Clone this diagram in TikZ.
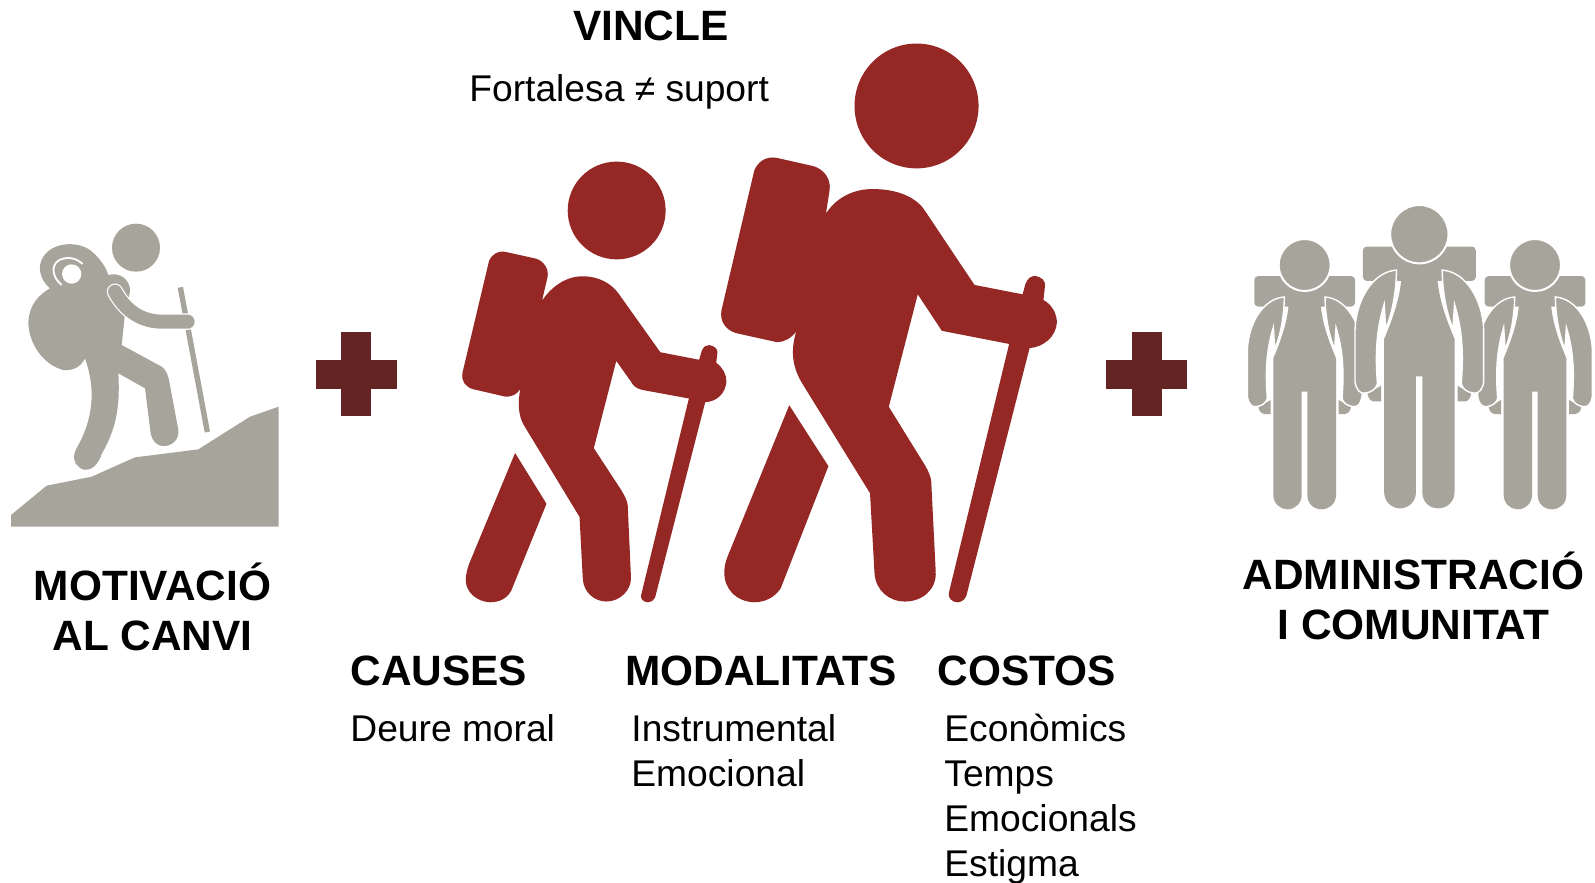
\documentclass[tikz,border=0pt]{standalone}
\usepackage{fontspec}
\setmainfont{Liberation Sans}
\definecolor{hikered}{HTML}{952725}
\definecolor{plusred}{HTML}{632423}
\definecolor{stonegrey}{HTML}{A7A59B}
\tikzset{
  bigtext/.style={inner sep=0pt,font=\fontsize{21.2}{25.4}\selectfont\bfseries,align=center},
  smalltext/.style={inner sep=0pt,font=\fontsize{18.6}{22.5}\selectfont,align=left},
  zoomA/.style={shift={(0,200)},x=0.16667pt,y=-0.16667pt},
  zoomB/.style={shift={(440,30)},x=0.204pt,y=-0.188pt},
  zoomC/.style={shift={(1230,190)},x=0.16667pt,y=-0.16667pt}
}
\newcommand{\plussign}[1]{%
  \begin{scope}[shift={(#1,0)}]
    \fill[plusred] (0,359.5) rectangle (81,388.5);
    \fill[plusred] (25.5,332) rectangle (55.5,416);
  \end{scope}}
\newcommand{\packer}[3]{%
  \begin{scope}[shift={(#1,#2)},scale=#3,shift={(-224,-958)}]
    \fill[stonegrey,rounded corners=2pt] (73,258) rectangle (375,350);
    \fill[stonegrey] (85,652) -- (122,630) -- (122,672) -- (102,672) .. controls (95,672) and (88,665) .. (85,652) -- cycle;
    \fill[stonegrey] (363,652) -- (326,630) -- (326,672) -- (346,672) .. controls (353,672) and (360,665) .. (363,652) -- cycle;
    \filldraw[stonegrey,draw=white,line width=0.7pt] (163,321) .. controls (100,325) and (55,400) .. (52,480) -- (52,620) .. controls (55,640) and (65,652) .. (78,650) .. controls (95,648) and (108,640) .. (112,625) .. controls (107,560) and (106,490) .. (130,412) -- (134,478) .. controls (150,440) and (162,385) .. (163,321) -- cycle;
    \filldraw[stonegrey,draw=white,line width=0.7pt] (285,321) .. controls (348,325) and (393,400) .. (396,480) -- (396,620) .. controls (393,640) and (383,652) .. (370,650) .. controls (353,648) and (340,640) .. (336,625) .. controls (341,560) and (342,490) .. (318,412) -- (314,478) .. controls (298,440) and (286,385) .. (285,321) -- cycle;
    \fill[stonegrey] (177,322) -- (271,322) .. controls (272,390) and (295,450) .. (318,505) -- (318,915) .. controls (318,940) and (298,958) .. (275,958) .. controls (250,958) and (232,940) .. (232,915) -- (232,605) -- (215,605) -- (215,915) .. controls (215,940) and (195,958) .. (172,958) .. controls (150,958) and (130,940) .. (130,915) -- (130,505) .. controls (153,450) and (176,390) .. (177,322) -- cycle;
    \filldraw[stonegrey,draw=white,line width=1pt] (224,225) circle (78);
  \end{scope}}
\begin{document}
\begin{tikzpicture}[x=0.5pt,y=-0.5pt]
\useasboundingbox (0,0) rectangle (1595,883);
\fill[white] (0,0) rectangle (1595,883);

% left hiker
\begin{scope}[zoomA]
  \fill[stonegrey] (33,945) -- (140,857) -- (275,830) -- (405,772) -- (595,748) -- (750,650) -- (836,620) -- (836,980) -- (33,980) -- cycle;
  \fill[stonegrey] (408,143) circle (72);
  \draw[stonegrey,line width=2.7pt] (541,262) -- (622,696);
  \fill[stonegrey] (150,265) .. controls (120,240) and (110,200) .. (130,170) .. controls (155,130) and (225,120) .. (270,150) .. controls (295,170) and (315,195) .. (325,225) .. controls (360,215) and (392,240) .. (390,275) -- (375,340) -- (365,435) -- (485,500) .. controls (500,510) and (505,530) .. (508,545) -- (535,690) .. controls (538,720) and (515,738) .. (492,738) .. controls (470,738) and (458,725) .. (452,700) -- (435,565) -- (355,520) .. controls (362,640) and (340,700) .. (305,762) .. controls (290,810) and (255,818) .. (238,802) .. controls (220,790) and (218,765) .. (228,748) .. controls (285,650) and (285,560) .. (255,475) .. controls (240,505) and (215,512) .. (190,510) .. controls (130,495) and (85,430) .. (85,365) .. controls (88,315) and (115,285) .. (150,265) -- cycle;
  \fill[white] (215,222) circle (29);
  \draw[white,line width=0.9pt] (185,255) .. controls (160,235) and (150,200) .. (175,182) .. controls (195,170) and (225,170) .. (248,192);
  \draw[white,line width=8.2pt,line cap=round] (345,275) .. controls (375,330) and (420,362) .. (480,365) -- (563,365);
  \draw[stonegrey,line width=7pt,line cap=round] (345,275) .. controls (375,330) and (420,362) .. (480,365) -- (563,365);
\end{scope}

\plussign{315.5}
\plussign{1106}

% centre hikers
\begin{scope}[zoomB]
  \fill[hikered] (1168,202) ellipse [x radius=152,y radius=166];
  \fill[hikered] (946,488) .. controls (975,440) and (1020,423) .. (1060,423) .. controls (1115,423) and (1160,440) .. (1185,475) -- (1310,678) -- (1428,703) -- (1435,675) .. controls (1440,660) and (1450,654) .. (1458,654) .. controls (1475,656) and (1484,668) .. (1483,680) -- (1479,718) .. controls (1500,730) and (1512,755) .. (1512,778) .. controls (1510,815) and (1480,843) .. (1445,846) -- (1290,1505) .. controls (1285,1518) and (1275,1522) .. (1268,1522) .. controls (1255,1522) and (1245,1510) .. (1247,1498) -- (1395,835) -- (1230,800) -- (1171,703) -- (1100,1002) -- (1190,1160) .. controls (1198,1175) and (1203,1190) .. (1204,1200) -- (1215,1440) .. controls (1218,1490) and (1180,1520) .. (1140,1520) .. controls (1100,1520) and (1068,1490) .. (1065,1445) -- (1054,1232) -- (885,935) .. controls (862,890) and (860,850) .. (873,802) .. controls (860,820) and (845,830) .. (825,830) -- (725,806) .. controls (700,797) and (685,775) .. (690,745) -- (770,375) .. controls (778,350) and (800,335) .. (825,340) -- (915,362) .. controls (945,372) and (958,400) .. (955,425) -- cycle;
  \fill[hikered] (856,998) -- (952,1160) -- (835,1485) .. controls (820,1510) and (795,1522) .. (770,1522) .. controls (725,1520) and (695,1485) .. (697,1440) .. controls (697,1425) and (700,1415) .. (705,1400) -- cycle;
  \fill[hikered] (433,480) ellipse [x radius=120,y radius=130];
  \fill[hikered] (250,720) .. controls (275,680) and (310,655) .. (350,655) .. controls (390,655) and (420,675) .. (437,700) -- (540,857) -- (635,877) -- (642,852) .. controls (646,842) and (652,838) .. (660,838) .. controls (672,840) and (681,848) .. (680,858) -- (677,885) .. controls (693,898) and (702,915) .. (702,935) .. controls (700,965) and (680,988) .. (650,990) -- (527,1510) .. controls (523,1518) and (517,1522) .. (510,1522) .. controls (498,1522) and (491,1512) .. (493,1503) -- (610,980) -- (495,957) .. controls (480,953) and (473,945) .. (468,935) -- (432,880) -- (377,1112) -- (445,1225) .. controls (452,1238) and (458,1250) .. (460,1262) -- (468,1455) .. controls (470,1490) and (440,1520) .. (408,1520) .. controls (378,1520) and (352,1495) .. (350,1460) -- (342,1295) -- (205,1050) .. controls (192,1025) and (190,990) .. (197,955) .. controls (187,970) and (178,975) .. (160,975) -- (80,955) .. controls (62,948) and (52,935) .. (55,912) -- (120,615) .. controls (128,595) and (142,587) .. (160,590) -- (235,608) .. controls (255,615) and (266,635) .. (264,655) -- cycle;
  \fill[hikered] (184,1125) -- (261,1260) -- (175,1490) .. controls (165,1512) and (145,1522) .. (122,1522) .. controls (90,1520) and (62,1495) .. (63,1460) .. controls (65,1440) and (68,1430) .. (72,1418) -- cycle;
\end{scope}

% right group
\begin{scope}[zoomC]
  \packer{224}{958}{1}
  \packer{915}{958}{1}
  \packer{568}{955}{1.122}
\end{scope}

% texts
\node[bigtext] (vincle) at (651,26) {VINCLE};
\node[smalltext,anchor=west] (fort) at (469,92) {Fortalesa ≠ suport};
\node[bigtext] (motiv) at (152.5,607) {MOTIVACIÓ\\AL CANVI};
\node[bigtext] (admin) at (1413.5,596) {ADMINISTRACIÓ\\I COMUNITAT};
\node[bigtext,anchor=west] (causes) at (350,671) {CAUSES};
\node[bigtext,anchor=west] (modal) at (625,671) {MODALITATS};
\node[bigtext,anchor=west] (costos) at (937,671) {COSTOS};
\node[smalltext,anchor=west] (deure) at (350,728) {Deure moral};
\node[smalltext,anchor=north west] (modl) at (631,714) {Instrumental\\Emocional};
\node[smalltext,anchor=north west] (cosl) at (944,714) {Econòmics\\Temps\\Emocionals\\Estigma};
\end{tikzpicture}
\end{document}
